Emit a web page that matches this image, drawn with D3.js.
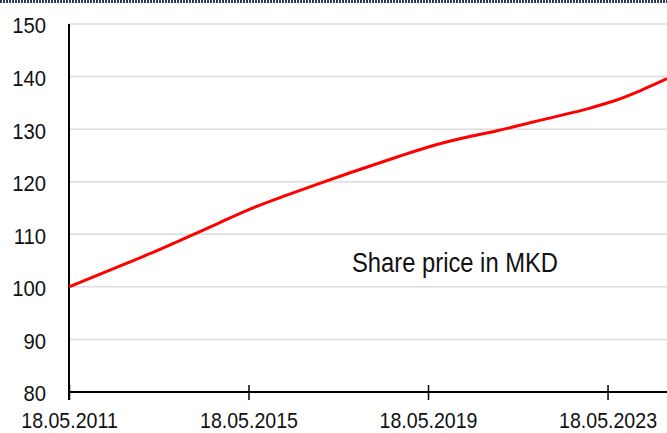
<!DOCTYPE html>
<html>
<head>
<meta charset="utf-8">
<script src="https://cdn.jsdelivr.net/npm/d3@7"></script>
<style>
  body { margin: 0; background: #fff; }
  text { font-family: "Liberation Sans", Arial, sans-serif; fill: #111; }
</style>
</head>
<body>
<div id="chart"></div>
<script>
// share price
var dates = ["18.05.2011","01.09.2012","06.03.2013","01.12.2013","05.09.2014","30.05.2015",
             "24.02.2016","25.11.2016","22.08.2017","08.09.2018","03.06.2019",
             "26.02.2020","30.11.2020","11.01.2022","27.12.2022","01.07.2023","06.02.2024","13.09.2024"];
var prices = [100, 104.5, 106.3, 109.1, 112.0, 114.8,
              117.2, 119.5, 121.7, 124.7, 126.7,
              128.3, 129.7, 132.0, 134.0, 135.3, 137.3, 139.6];
var xTicks = ["18.05.2011","18.05.2015","18.05.2019","18.05.2023"];
var yTicks = [80, 90, 100, 110, 120, 130, 140, 150];
var seriesLabel = "Share price in MKD";

var W = 667, H = 433;
var parse = d3.timeParse("%d.%m.%Y");
var fmt = d3.timeFormat("%d.%m.%Y");

var data = dates.map(function(d, i) { return { date: parse(d), value: prices[i] }; });

var svg = d3.select("#chart").append("svg")
    .attr("width", W)
    .attr("height", H);

// dotted band along the top edge
svg.append("line")
    .attr("x1", 0).attr("x2", W)
    .attr("y1", 1.5).attr("y2", 1.5)
    .style("stroke", "#2f3d58")
    .style("stroke-width", 3)
    .style("stroke-dasharray", "2,1");

var x = d3.scaleTime()
    .domain([parse("18.05.2011"), parse("13.09.2024")])
    .range([69, 667]);

var y = d3.scaleLinear()
    .domain([80, 150])
    .range([392, 24]);

// squeeze text a little, like the original rendering
function squeeze(sel, k) {
    sel.each(function() {
        var len = this.getComputedTextLength();
        d3.select(this).attr("textLength", len * k).attr("lengthAdjust", "spacingAndGlyphs");
    });
}

// gridlines
svg.append("g")
    .selectAll("line")
    .data(yTicks.filter(function(v) { return v > 80; }))
    .enter()
    .append("line")
    .attr("x1", x.range()[0])
    .attr("x2", W)
    .attr("y1", function(d) { return y(d); })
    .attr("y2", function(d) { return y(d); })
    .style("stroke", "#dcdcdc")
    .style("stroke-width", 1.5);

// y axis labels (no tick marks)
var yLab = svg.append("g")
    .selectAll("text")
    .data(yTicks)
    .enter()
    .append("text")
    .attr("x", 46)
    .attr("y", function(d) { return y(d) + 1.5; })
    .attr("dy", "0.35em")
    .style("text-anchor", "end")
    .style("font-size", "22.5px")
    .text(function(d) { return d; });
squeeze(yLab, 0.9);

// vertical axis line
svg.append("line")
    .attr("x1", 69).attr("x2", 69)
    .attr("y1", y(150)).attr("y2", 400)
    .style("stroke", "#000")
    .style("stroke-width", 2);

// x axis
var xAxis = svg.append("g")
    .attr("transform", "translate(0," + y(80) + ")")
    .call(d3.axisBottom(x)
        .tickValues(xTicks.map(parse))
        .tickFormat(fmt)
        .tickSizeOuter(0)
        .tickSizeInner(8)
        .tickPadding(12));

xAxis.select(".domain")
    .attr("d", "M" + x.range()[0] + ",0H" + W)
    .style("stroke", "#000")
    .style("stroke-width", 2);
xAxis.selectAll(".tick line")
    .attr("y1", -7)
    .attr("y2", 8)
    .style("stroke", "#000")
    .style("stroke-width", 1.5);
var xLab = xAxis.selectAll(".tick text")
    .style("font-size", "22.5px")
    .style("font-family", "'Liberation Sans', Arial, sans-serif")
    .attr("fill", "#111");
squeeze(xLab, 0.87);

// the price line
var line = d3.line()
    .x(function(d) { return x(d.date); })
    .y(function(d) { return y(d.value); })
    .curve(d3.curveMonotoneX);

svg.append("path")
    .datum(data)
    .attr("d", line)
    .style("fill", "none")
    .style("stroke", "#ff0000")
    .style("stroke-width", 3);

// series label
svg.append("text")
    .attr("x", 352)
    .attr("y", 272)
    .style("font-size", "27px")
    .attr("textLength", 206)
    .attr("lengthAdjust", "spacingAndGlyphs")
    .text(seriesLabel);
</script>
</body>
</html>
